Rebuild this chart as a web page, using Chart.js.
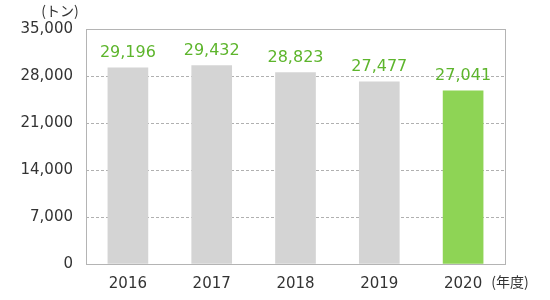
<!DOCTYPE html>
<html><head><meta charset="utf-8">
<script src="https://cdn.jsdelivr.net/npm/chart.js@4"></script>
<style>html,body{margin:0;padding:0;background:#fff}#wrap{width:550px;height:300px}</style>
</head><body><div id="wrap"><canvas id="c" width="550" height="300"></canvas></div>
<script>
const categories = ['2016', '2017', '2018', '2019', '2020'];
const barValues = [29200, 29550, 28500, 27150, 25800];
const valueLabels = ['29,196', '29,432', '28,823', '27,477', '27,041'];
const yTicks = [0, 7000, 14000, 21000, 28000, 35000];
const barColors = ['#d4d4d4', '#d4d4d4', '#d4d4d4', '#d4d4d4', '#8ed455'];
const yUnit = '(トン)';
const xUnit = '(年度)';

const FONT = "'DejaVu Sans', sans-serif";
const CJK = "'Noto Sans CJK JP', sans-serif";

const extras = {
  id: 'extras',
  afterDraw(chart) {
    const ctx = chart.ctx, a = chart.chartArea;
    ctx.save();
    ctx.strokeStyle = '#b4b4b4';
    ctx.lineWidth = 1;
    ctx.strokeRect(Math.round(a.left) + 0.5, Math.round(a.top) + 0.5, Math.round(a.right - a.left), Math.round(a.bottom - a.top));
    const meta = chart.getDatasetMeta(0);
    ctx.fillStyle = '#5db52c';
    ctx.font = '16px ' + FONT;
    ctx.textAlign = 'center';
    ctx.textBaseline = 'middle';
    meta.data.forEach((bar, i) => {
      ctx.fillText(valueLabels[i], bar.x, bar.y - 15);
    });
    ctx.fillStyle = '#333';
    ctx.font = '14px ' + CJK;
    ctx.fillText(yUnit, 60, 11);
    ctx.fillText(xUnit, 510, 282);
    ctx.restore();
  }
};

new Chart(document.getElementById('c'), {
  type: 'bar',
  data: {
    labels: categories,
    datasets: [{ data: barValues, backgroundColor: barColors, borderWidth: 0, barThickness: 40 }]
  },
  options: {
    responsive: false,
    animation: false,
    devicePixelRatio: 1,
    layout: { padding: { top: 29, right: 45, bottom: 0, left: 0 } },
    plugins: { legend: { display: false }, tooltip: { enabled: false } },
    scales: {
      x: {
        grid: { display: false },
        border: { display: false },
        ticks: { color: '#333', font: { family: FONT, size: 15 }, padding: 3 },
        afterFit(s) { s.height = 300 - 264; }
      },
      y: {
        min: 0, max: 35000,
        afterBuildTicks(s) { s.ticks = yTicks.map(v => ({ value: v })); },
        afterFit(s) { s.width = 86; },
        grid: {
          color: c => (c.tick && (c.tick.value === 0 || c.tick.value === 35000)) ? 'rgba(0,0,0,0)' : '#b0b0b0',
          drawTicks: false, lineWidth: 1
        },
        border: { display: false, dash: [3, 2] },
        ticks: {
          color: '#333', font: { family: FONT, size: 15 }, padding: 13,
          callback: v => v.toLocaleString('en-US')
        }
      }
    }
  },
  plugins: [extras]
});
</script></body></html>
